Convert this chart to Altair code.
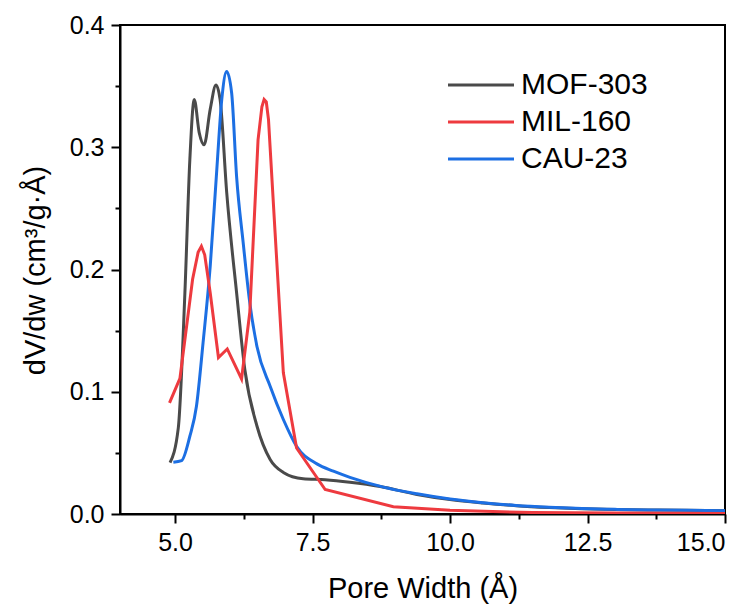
import altair as alt
import pandas as pd

# ---- data ----
mof_x = [4.91, 5.06, 5.18, 5.27, 5.35, 5.44, 5.53, 5.64, 5.745, 5.82, 5.94, 6.12, 6.27, 6.49, 6.73,
         6.97, 7.33, 7.73, 8.18, 8.73, 9.4, 10.0, 10.6, 11.2, 11.8, 12.4, 13.0, 13.6, 14.3, 15.0]
mof_y = [0.042, 0.0705, 0.181, 0.290, 0.339, 0.312, 0.302, 0.331, 0.351, 0.339, 0.263, 0.181, 0.118,
         0.072, 0.0446, 0.034, 0.0288, 0.028, 0.026, 0.0225, 0.016, 0.0118, 0.009, 0.0068, 0.0053,
         0.0043, 0.0037, 0.0033, 0.003, 0.0027]

mil_x = [4.90, 5.09, 5.32, 5.42, 5.48, 5.54, 5.64, 5.79, 5.95, 6.21, 6.36, 6.51, 6.58, 6.62, 6.66,
         6.70, 6.82, 6.97, 7.21, 7.73, 8.97, 10.0, 11.5, 13.0, 15.0]
mil_y = [0.0909, 0.111, 0.192, 0.214, 0.219, 0.212, 0.181, 0.128, 0.135, 0.1105, 0.165, 0.306, 0.333,
         0.339, 0.337, 0.3226, 0.230, 0.1155, 0.054, 0.020, 0.0059, 0.003, 0.0012, 0.0008, 0.0005]

cau_x = [4.97, 5.12, 5.27, 5.39, 5.51, 5.64, 5.76, 5.85, 5.94, 6.03, 6.12, 6.24, 6.36, 6.49, 6.73,
         6.97, 7.21, 7.58, 7.88, 8.18, 8.79, 9.4, 10.0, 10.6, 11.2, 11.8, 12.4, 13.0, 13.6, 14.3, 15.0]
cau_y = [0.0424, 0.0437, 0.0636, 0.0881, 0.140, 0.2026, 0.2817, 0.339, 0.362, 0.3444, 0.276, 0.2218,
         0.1727, 0.137, 0.1045, 0.0773, 0.0554, 0.041, 0.035, 0.030, 0.022, 0.0165, 0.0122, 0.0092,
         0.007, 0.0055, 0.0044, 0.0038, 0.0033, 0.003, 0.0027]

series_names = ["MOF-303", "MIL-160", "CAU-23"]
series_colors = ["#4a4a4a", "#ee3a3f", "#1c6fe3"]

x_major = [5.0, 7.5, 10.0, 12.5, 15.0]
x_minor = [6.25, 8.75, 11.25, 13.75]
y_major = [0.0, 0.1, 0.2, 0.3, 0.4]
y_minor = [0.05, 0.15, 0.25, 0.35]

rows = []
for name, xs, ys in zip(series_names, [mof_x, mil_x, cau_x], [mof_y, mil_y, cau_y]):
    for i, (a, b) in enumerate(zip(xs, ys)):
        rows.append({"series": name, "w": a, "v": b, "i": i})
df = pd.DataFrame(rows)
minor_df = pd.DataFrame({"mx": x_minor, "my": y_minor})

FONT = "Liberation Sans"
xscale = alt.Scale(domain=[4, 15], nice=False, zero=False)
yscale = alt.Scale(domain=[0, 0.4], nice=False, zero=False)
color = alt.Color("series:N", sort=series_names,
                  scale=alt.Scale(domain=series_names, range=series_colors),
                  legend=alt.Legend(title=None, orient="none", legendX=346, legendY=45,
                                    symbolType="M-3,0H3", symbolSize=484, symbolStrokeWidth=3,
                                    labelFontSize=30, labelFont=FONT, labelOffset=25,
                                    rowPadding=7, padding=0))

xenc = alt.X("w:Q", scale=xscale,
             axis=alt.Axis(values=x_major, format=".1f", title="Pore Width (Å)",
                           titleFontSize=29, titleY=83, titleBaseline="alphabetic",
                           labelFontSize=25, labelPadding=7, tickSize=9, grid=False))
yenc = alt.Y("v:Q", scale=yscale,
             axis=alt.Axis(values=y_major, format=".1f", title="dV/dw (cm³/g·Å)",
                           titleFontSize=29, titleAngle=-90, titleX=-76, titleY=245,
                           titleAlign="center", titleBaseline="alphabetic",
                           labelFontSize=25, labelPadding=7, tickSize=9, grid=False))

smooth = alt.Chart(df).transform_filter(
    alt.FieldOneOfPredicate(field="series", oneOf=["MOF-303", "CAU-23"])
).mark_line(strokeWidth=3, clip=True, interpolate="monotone").encode(
    x=xenc, y=yenc, color=color, order="i:Q")

red = alt.Chart(df).transform_filter(
    alt.FieldEqualPredicate(field="series", equal="MIL-160")
).mark_line(strokeWidth=3, clip=True).encode(
    x=xenc, y=yenc, color=color, order="i:Q")

curves = alt.layer(smooth, red)

minor = alt.Chart(minor_df).mark_point(opacity=0).encode(
    x=alt.X("mx:Q", scale=xscale,
            axis=alt.Axis(values=x_minor, labels=False, domain=False, tickSize=5, title=None,
                          orient="bottom", grid=False)),
    y=alt.Y("my:Q", scale=yscale,
            axis=alt.Axis(values=y_minor, labels=False, domain=False, tickSize=5, title=None,
                          orient="left", grid=False)),
)

chart = alt.layer(curves, minor).resolve_axis(x="independent", y="independent").properties(
    width=605, height=489,
    autosize=alt.AutoSizeParams(type="none"),
    padding={"left": 120, "top": 25, "right": 30, "bottom": 91},
    background="white",
).configure_axis(
    domainColor="black", domainWidth=2, tickColor="black", tickWidth=2,
    labelColor="black", titleColor="black", labelFont=FONT, titleFont=FONT,
    titleFontWeight="normal",
).configure_view(stroke="black", strokeWidth=2)

chart.save("out.html", embed_options={"renderer": "svg", "actions": False})
